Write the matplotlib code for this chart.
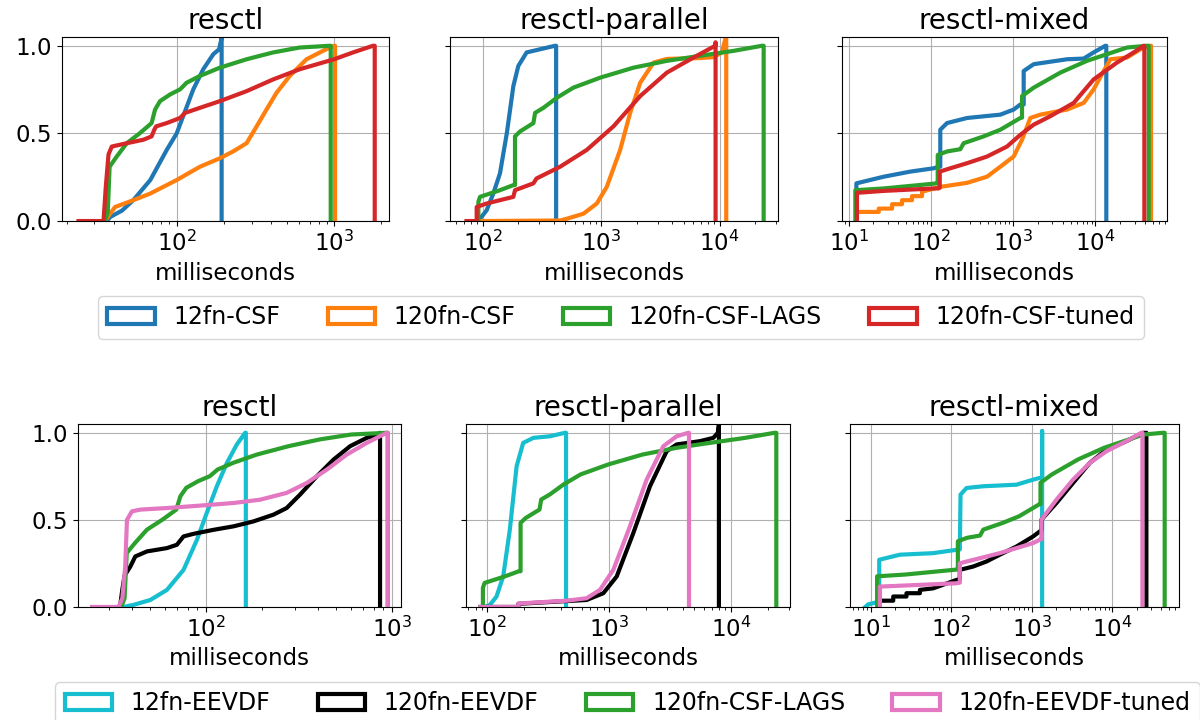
import matplotlib
matplotlib.use("Agg")
import matplotlib.pyplot as plt
from matplotlib.patches import Patch

plt.rcParams["font.size"] = 16.5

# ---- top row: CSF runs ----
# resctl
csf12_resctl_x = [36, 37.8, 45, 53, 68, 86.5, 100, 127.5, 147.5, 171, 186, 193, 193]
csf12_resctl_y = [0, 0.023, 0.06, 0.119, 0.234, 0.406, 0.5, 0.751, 0.866, 0.952, 0.98, 1.045, 0]
csf120_resctl_x = [35, 37.8, 40.6, 53, 68, 100, 140.6, 188, 228, 278, 322, 372, 431, 523, 668, 894, 1000, 1014, 1014]
csf120_resctl_y = [0, 0.042, 0.08, 0.119, 0.157, 0.234, 0.31, 0.358, 0.397, 0.444, 0.54, 0.636, 0.732, 0.828, 0.923, 0.981, 1.0, 1.0, 0]
lags_resctl_x = [35, 36.5, 37.5, 41.6, 48.2, 58.5, 69.3, 72.9, 78.4, 90.7, 105, 115.6, 140.6, 188, 278, 410, 605, 938, 952, 952]
lags_resctl_y = [0, 0.05, 0.31, 0.368, 0.444, 0.502, 0.559, 0.636, 0.684, 0.722, 0.751, 0.789, 0.828, 0.875, 0.923, 0.962, 0.99, 1.0, 1.0, 0]
csftuned_resctl_x = [23.8, 34.3, 35.5, 36.9, 38.7, 48.2, 61.5, 69.3, 72, 74, 86.5, 105, 113, 140.6, 188, 278, 410, 605, 1000, 1319, 1766, 1812, 1812]
csftuned_resctl_y = [0, 0, 0.2, 0.38, 0.425, 0.444, 0.464, 0.483, 0.52, 0.54, 0.559, 0.588, 0.617, 0.646, 0.684, 0.741, 0.808, 0.866, 0.923, 0.962, 1.0, 1.0, 0]

# resctl-parallel
csf12_par_x = [92, 95, 108, 123, 140, 160, 181.6, 200, 235, 305, 408, 417, 417]
csf12_par_y = [0, 0.013, 0.061, 0.157, 0.272, 0.502, 0.77, 0.885, 0.962, 0.98, 1.0, 1.0, 0]
csf120_par_x = [95, 450, 513, 710, 919, 1116, 1448, 1758, 2137, 2770, 3590, 6870, 8890, 10470, 11380, 11380]
csf120_par_y = [0, 0.003, 0.013, 0.042, 0.1, 0.195, 0.406, 0.617, 0.789, 0.904, 0.925, 0.93, 0.935, 0.962, 1.06, 0]
lags_par_x = [92, 92, 95, 140, 181.6, 187.5, 187.5, 206.7, 268, 277, 326, 422, 583, 981, 1875, 3590, 6870, 13130, 22800, 23550, 23550]
lags_par_y = [0, 0.11, 0.138, 0.176, 0.205, 0.205, 0.483, 0.511, 0.559, 0.617, 0.646, 0.703, 0.761, 0.818, 0.875, 0.914, 0.943, 0.971, 1.0, 1.0, 0]
csftuned_par_x = [73, 89, 89, 108, 140, 181.6, 187.5, 268, 285, 451, 757, 1270, 2137, 3590, 6030, 9180, 9250, 9250]
csftuned_par_y = [0, 0, 0.08, 0.1, 0.119, 0.138, 0.176, 0.215, 0.243, 0.31, 0.406, 0.54, 0.713, 0.847, 0.933, 1.0, 1.02, 0]

# resctl-mixed
csf12_mix_x = [12.4, 12.4, 26.7, 56, 108, 124, 130, 130, 157, 275, 698, 1014, 1223, 1343, 1343, 1778, 4520, 7210, 9520, 13210, 13580, 13580]
csf12_mix_y = [0, 0.215, 0.253, 0.282, 0.301, 0.31, 0.31, 0.521, 0.559, 0.588, 0.607, 0.636, 0.665, 0.665, 0.856, 0.895, 0.923, 0.927, 0.962, 1.0, 1.0, 0]
csf120_mix_x = [12.6, 12.6, 23.2, 23.2, 33.7, 33.7, 44.5, 44.5, 58.9, 58.9, 78, 78, 98.4, 130, 275, 481, 698, 1014, 1282, 1618, 2140, 4520, 7210, 9520, 12620, 15200, 24270, 35250, 46600, 47500, 47500]
csf120_mix_y = [0, 0.052, 0.052, 0.071, 0.071, 0.096, 0.096, 0.119, 0.119, 0.142, 0.142, 0.167, 0.18, 0.195, 0.218, 0.253, 0.31, 0.368, 0.464, 0.588, 0.607, 0.636, 0.674, 0.751, 0.856, 0.923, 0.933, 0.98, 1.0, 1.0, 0]
lags_mix_x = [12.05, 12.05, 26.7, 118.6, 121, 121, 157, 228, 250, 438, 698, 1223, 1282, 1282, 1778, 3750, 7900, 13840, 24270, 42500, 44500, 44500]
lags_mix_y = [0, 0.176, 0.186, 0.215, 0.215, 0.377, 0.397, 0.41, 0.444, 0.483, 0.521, 0.588, 0.59, 0.713, 0.761, 0.847, 0.914, 0.952, 0.99, 1.0, 1.0, 0]
csftuned_mix_x = [12.6, 12.6, 26.7, 108, 124, 128, 128, 172, 275, 481, 841, 1223, 1778, 2830, 5450, 9520, 18300, 29200, 38700, 39400, 39400]
csftuned_mix_y = [0, 0.161, 0.172, 0.186, 0.186, 0.19, 0.282, 0.301, 0.33, 0.368, 0.425, 0.492, 0.55, 0.598, 0.674, 0.808, 0.904, 0.962, 1.0, 1.0, 0]

# ---- bottom row: EEVDF runs (LAGS curves reused from above) ----
eevdf12_resctl_x = [34, 36, 40.8, 50.2, 61.7, 75.8, 89.5, 101, 114.5, 129.7, 146.7, 162.7, 164, 164]
eevdf12_resctl_y = [0, 0, 0.012, 0.04, 0.098, 0.213, 0.386, 0.539, 0.693, 0.827, 0.933, 1.0, 1.0, 0]
eevdf120_resctl_x = [34.5, 35.5, 36.5, 39.2, 41.7, 48.2, 61.7, 69.8, 75.8, 85.9, 110, 141, 180, 231, 272, 321, 395, 486, 597, 734, 848, 865, 865]
eevdf120_resctl_y = [0, 0.1, 0.18, 0.232, 0.29, 0.319, 0.338, 0.357, 0.405, 0.42, 0.443, 0.463, 0.491, 0.53, 0.568, 0.645, 0.75, 0.846, 0.923, 0.971, 0.99, 1.0, 0]
eevdftuned_resctl_x = [24.4, 33.9, 35.5, 36.8, 37.6, 40, 44.4, 61.7, 93.3, 141, 196, 272, 349, 448, 573, 734, 940, 952, 952]
eevdftuned_resctl_y = [0, 0, 0.05, 0.232, 0.5, 0.549, 0.559, 0.568, 0.582, 0.597, 0.616, 0.655, 0.712, 0.789, 0.875, 0.942, 1.0, 1.0, 0]

eevdf12_par_x = [95.7, 105, 119, 135, 153, 174, 197, 239, 327, 434, 443, 443]
eevdf12_par_y = [0, 0.012, 0.06, 0.175, 0.443, 0.808, 0.942, 0.971, 0.98, 1.0, 1.0, 0]
eevdf120_par_x = [88, 180, 180, 450, 653, 896, 1153, 1578, 2163, 2964, 3580, 5570, 7170, 7800, 7960, 7960]
eevdf120_par_y = [0, 0, 0.018, 0.034, 0.04, 0.079, 0.175, 0.424, 0.693, 0.894, 0.933, 0.952, 0.971, 1.0, 1.05, 0]
eevdftuned_par_x = [88, 180, 180, 448, 653, 841, 1082, 1482, 2031, 2784, 3580, 4465, 4520, 4520]
eevdftuned_par_y = [0, 0, 0.02, 0.036, 0.05, 0.098, 0.213, 0.463, 0.731, 0.923, 0.98, 1.0, 1.0, 0]

eevdf12_mix_x = [8.6, 9.35, 12.8, 12.8, 23.1, 59.8, 116, 128, 130.6, 155, 249, 646, 1040, 1259, 1343, 1343, 1343]
eevdf12_mix_y = [0, 0.015, 0.03, 0.271, 0.3, 0.309, 0.328, 0.33, 0.645, 0.683, 0.693, 0.702, 0.731, 0.741, 0.745, 1.01, 0]
eevdf120_mix_x = [13.06, 13.06, 19.1, 19.1, 27.9, 27.9, 40.9, 40.9, 59.8, 116, 128, 128, 187, 274, 401, 646, 1040, 1259, 1318, 1318, 2023, 3250, 5240, 8430, 14930, 24000, 26400, 26400]
eevdf120_mix_y = [0, 0.036, 0.036, 0.06, 0.06, 0.079, 0.079, 0.098, 0.107, 0.155, 0.16, 0.213, 0.232, 0.261, 0.3, 0.347, 0.405, 0.434, 0.44, 0.501, 0.597, 0.712, 0.827, 0.904, 0.952, 1.0, 1.0, 0]
eevdftuned_mix_x = [13.06, 13.06, 116, 128, 128, 187, 401, 1040, 1259, 1318, 1318, 2023, 3250, 5240, 8430, 14930, 22900, 23560, 23560]
eevdftuned_mix_y = [0, 0.117, 0.136, 0.14, 0.251, 0.27, 0.309, 0.367, 0.386, 0.39, 0.501, 0.616, 0.731, 0.827, 0.894, 0.952, 1.0, 1.0, 0]

titles = ["resctl", "resctl-parallel", "resctl-mixed"]
top_labels = ["12fn-CSF", "120fn-CSF", "120fn-CSF-LAGS", "120fn-CSF-tuned"]
top_colors = ["#1f77b4", "#ff7f0e", "#2ca02c", "#d62728"]
bot_labels = ["12fn-EEVDF", "120fn-EEVDF", "120fn-CSF-LAGS", "120fn-EEVDF-tuned"]
bot_colors = ["#17becf", "black", "#2ca02c", "#e377c2"]

top_curves = [
    [(csf12_resctl_x, csf12_resctl_y), (csf120_resctl_x, csf120_resctl_y), (lags_resctl_x, lags_resctl_y), (csftuned_resctl_x, csftuned_resctl_y)],
    [(csf12_par_x, csf12_par_y), (csf120_par_x, csf120_par_y), (lags_par_x, lags_par_y), (csftuned_par_x, csftuned_par_y)],
    [(csf12_mix_x, csf12_mix_y), (csf120_mix_x, csf120_mix_y), (lags_mix_x, lags_mix_y), (csftuned_mix_x, csftuned_mix_y)],
]
bot_curves = [
    [(eevdf12_resctl_x, eevdf12_resctl_y), (eevdf120_resctl_x, eevdf120_resctl_y), (lags_resctl_x, lags_resctl_y), (eevdftuned_resctl_x, eevdftuned_resctl_y)],
    [(eevdf12_par_x, eevdf12_par_y), (eevdf120_par_x, eevdf120_par_y), (lags_par_x, lags_par_y), (eevdftuned_par_x, eevdftuned_par_y)],
    [(eevdf12_mix_x, eevdf12_mix_y), (eevdf120_mix_x, eevdf120_mix_y), (lags_mix_x, lags_mix_y), (eevdftuned_mix_x, eevdftuned_mix_y)],
]

top_xlims = [(18.7, 2234), (53, 31100), (8.3, 74300)]
bot_xlims = [(20.5, 1122), (66.8, 30480), (5.55, 67000)]

fig = plt.figure(figsize=(12, 7.2), dpi=100)

top_pos = [[0.0517, 0.693, 0.2725, 0.2556], [0.375, 0.693, 0.2733, 0.2556], [0.7017, 0.693, 0.2708, 0.2556]]
bot_pos = [[0.065, 0.157, 0.2692, 0.254], [0.3883, 0.157, 0.27, 0.254], [0.7083, 0.157, 0.2742, 0.254]]


def draw_row(positions, curves, colors, xlims):
    for i in range(3):
        ax = fig.add_axes(positions[i])
        for (xs, ys), c in zip(curves[i], colors):
            ax.plot(xs, ys, color=c, lw=3)
        ax.set_xscale("log")
        ax.set_xlim(*xlims[i])
        ax.set_ylim(0, 1.05)
        ax.set_yticks([0, 0.5, 1.0])
        if i > 0:
            ax.set_yticklabels([])
        ax.grid(True)
        ax.set_title(titles[i], fontsize=20)
        ax.set_xlabel("milliseconds")


draw_row(top_pos, top_curves, top_colors, top_xlims)
draw_row(bot_pos, bot_curves, bot_colors, bot_xlims)

top_handles = [Patch(facecolor="none", edgecolor=c, lw=3) for c in top_colors]
bot_handles = [Patch(facecolor="none", edgecolor=c, lw=3) for c in bot_colors]
fig.legend(top_handles, top_labels, loc="upper center", ncol=4, fontsize=17,
           borderaxespad=0, bbox_to_anchor=(0.5175, 0.589))
fig.legend(bot_handles, bot_labels, loc="upper center", ncol=4, fontsize=17,
           borderaxespad=0, bbox_to_anchor=(0.523, 0.053))

fig.savefig("out.png", dpi=100)
